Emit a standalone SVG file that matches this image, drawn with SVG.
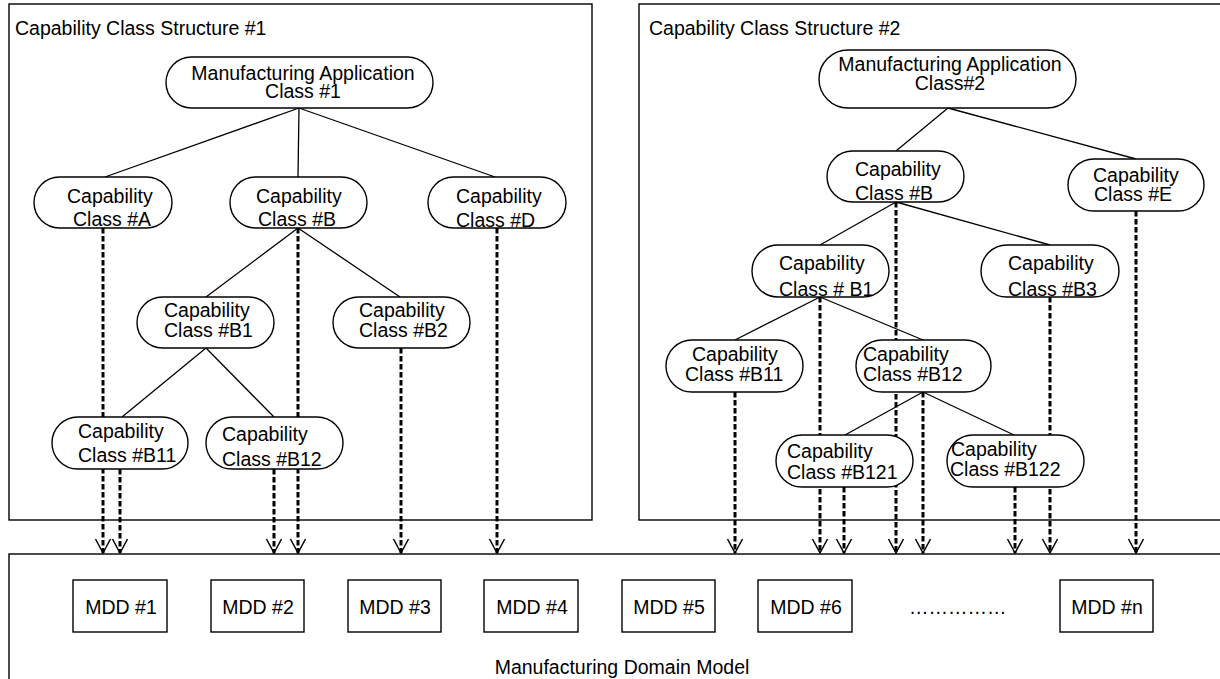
<svg xmlns="http://www.w3.org/2000/svg" width="1220" height="679" viewBox="0 0 1220 679">
<style>
text{font-family:"Liberation Sans",Arial,sans-serif;font-size:19.5px;fill:#000}
.box{fill:#fff;stroke:#000;stroke-width:1.4}
.node{fill:#fff;stroke:#000;stroke-width:1.4}
.mdd{fill:#fff;stroke:#000;stroke-width:1.4}
.tree{stroke:#000;stroke-width:1.3;fill:none}
.dep{stroke:#000;stroke-width:3;stroke-dasharray:5.5 2.5;fill:none}
.c{text-anchor:middle}
</style>
<defs>
<marker id="arr" markerUnits="userSpaceOnUse" markerWidth="20" markerHeight="20" viewBox="-16 -10 20 20" refX="0" refY="0" orient="auto" overflow="visible">
<path d="M-14,-7.5 L0,0 L-14,7.5" fill="none" stroke="#000" stroke-width="1.5"/>
</marker>
</defs>
<rect width="1220" height="679" fill="#fff"/>

<g id="structure1">
<rect class="box" x="9" y="4" width="583" height="516"/>
<text x="15" y="35">Capability Class Structure #1</text>
</g>
<g id="structure2">
<rect class="box" x="639" y="4" width="600" height="516"/>
<text x="649" y="35">Capability Class Structure #2</text>
</g>
<g id="domain">
<rect class="box" x="9" y="554" width="1230" height="140"/>
<text class="c" x="622" y="674">Manufacturing Domain Model</text>
</g>

<g id="connectors">
<path class="tree" d="M299,108 L105,177 M299,108 L298,177 M299,108 L495,177 M298,228 L206,297 M298,228 L400,297 M206,348 L122,417 M206,348 L274,417"/>
<path class="tree" d="M948,108 L896,151 M948,108 L1136,159 M896,202 L820,245 M896,202 L1050,245 M820,297 L735,340 M820,297 L923,340 M923,392 L845,435 M923,392 L1014,435"/>
<path class="dep" marker-end="url(#arr)" d="M103,228 L103,553"/>
<path class="dep" marker-end="url(#arr)" d="M120,469 L120,553"/>
<path class="dep" marker-end="url(#arr)" d="M274,469 L274,553"/>
<path class="dep" marker-end="url(#arr)" d="M298,228 L298,553"/>
<path class="dep" marker-end="url(#arr)" d="M401,348 L401,553"/>
<path class="dep" marker-end="url(#arr)" d="M497,228 L497,553"/>
<path class="dep" marker-end="url(#arr)" d="M735,392 L735,553"/>
<path class="dep" marker-end="url(#arr)" d="M820,297 L820,553"/>
<path class="dep" marker-end="url(#arr)" d="M844,487 L844,553"/>
<path class="dep" marker-end="url(#arr)" d="M896,202 L896,553"/>
<path class="dep" marker-end="url(#arr)" d="M923,392 L923,553"/>
<path class="dep" marker-end="url(#arr)" d="M1015,487 L1015,553"/>
<path class="dep" marker-end="url(#arr)" d="M1050,297 L1050,553"/>
<path class="dep" marker-end="url(#arr)" d="M1136,211 L1136,553"/>
</g>

<g id="root1"><rect class="node" x="166" y="57" width="267" height="51" rx="25.5"/>
<text class="c"><tspan x="303" y="80">Manufacturing Application</tspan><tspan x="303" y="98">Class #1</tspan></text></g>
<g id="s1-A"><rect class="node" x="34" y="177" width="138" height="51" rx="25.5"/>
<text><tspan x="67" y="203">Capability</tspan><tspan x="73" y="226">Class #A</tspan></text></g>
<g id="s1-B"><rect class="node" x="230" y="177" width="137" height="51" rx="25.5"/>
<text><tspan x="256" y="203">Capability</tspan><tspan x="258" y="226">Class #B</tspan></text></g>
<g id="s1-D"><rect class="node" x="428" y="177" width="138" height="51" rx="25.5"/>
<text><tspan x="456" y="203">Capability</tspan><tspan x="456" y="227">Class #D</tspan></text></g>
<g id="s1-B1"><rect class="node" x="137" y="297" width="137" height="51" rx="25.5"/>
<text><tspan x="164" y="317">Capability</tspan><tspan x="164" y="337">Class #B1</tspan></text></g>
<g id="s1-B2"><rect class="node" x="333" y="297" width="137" height="51" rx="25.5"/>
<text><tspan x="359" y="317">Capability</tspan><tspan x="359" y="337">Class #B2</tspan></text></g>
<g id="s1-B11"><rect class="node" x="52" y="417" width="136" height="52" rx="26"/>
<text><tspan x="78" y="438">Capability</tspan><tspan x="78" y="462">Class #B11</tspan></text></g>
<g id="s1-B12"><rect class="node" x="206" y="417" width="137" height="52" rx="26"/>
<text><tspan x="222" y="441">Capability</tspan><tspan x="222" y="466">Class #B12</tspan></text></g>

<g id="root2"><rect class="node" x="819" y="50" width="257" height="58" rx="29"/>
<text class="c"><tspan x="950" y="71">Manufacturing Application</tspan><tspan x="950" y="90">Class#2</tspan></text></g>
<g id="s2-B"><rect class="node" x="827" y="151" width="137" height="51" rx="25.5"/>
<text><tspan x="855" y="176">Capability</tspan><tspan x="855" y="200">Class #B</tspan></text></g>
<g id="s2-E"><rect class="node" x="1068" y="159" width="136" height="52" rx="26"/>
<text><tspan x="1093" y="182">Capability</tspan><tspan x="1094" y="201">Class #E</tspan></text></g>
<g id="s2-B1"><rect class="node" x="752" y="245" width="137" height="52" rx="26"/>
<text><tspan x="779" y="270">Capability</tspan><tspan x="779" y="296">Class # B1</tspan></text></g>
<g id="s2-B3"><rect class="node" x="981" y="245" width="138" height="52" rx="26"/>
<text><tspan x="1008" y="270">Capability</tspan><tspan x="1008" y="296">Class #B3</tspan></text></g>
<g id="s2-B11"><rect class="node" x="666" y="340" width="137" height="52" rx="26"/>
<text><tspan x="692" y="361">Capability</tspan><tspan x="685" y="381">Class #B11</tspan></text></g>
<g id="s2-B12"><rect class="node" x="856" y="340" width="135" height="52" rx="26"/>
<text><tspan x="863" y="361">Capability</tspan><tspan x="863" y="381">Class #B12</tspan></text></g>
<g id="s2-B121"><rect class="node" x="776" y="435" width="137" height="52" rx="26"/>
<text><tspan x="787" y="458">Capability</tspan><tspan x="787" y="479">Class #B121</tspan></text></g>
<g id="s2-B122"><rect class="node" x="947" y="435" width="137" height="52" rx="26"/>
<text><tspan x="951" y="456">Capability</tspan><tspan x="950" y="476">Class #B122</tspan></text></g>

<g id="mdd1"><rect class="mdd" x="73" y="580" width="94" height="52"/><text class="c" x="121" y="614">MDD #1</text></g>
<g id="mdd2"><rect class="mdd" x="211" y="580" width="93" height="52"/><text class="c" x="258" y="614">MDD #2</text></g>
<g id="mdd3"><rect class="mdd" x="348" y="580" width="93" height="52"/><text class="c" x="395" y="614">MDD #3</text></g>
<g id="mdd4"><rect class="mdd" x="484" y="580" width="94" height="52"/><text class="c" x="532" y="614">MDD #4</text></g>
<g id="mdd5"><rect class="mdd" x="622" y="580" width="93" height="52"/><text class="c" x="669" y="614">MDD #5</text></g>
<g id="mdd6"><rect class="mdd" x="758" y="580" width="94" height="52"/><text class="c" x="806" y="614">MDD #6</text></g>
<g id="ellipsis"><text x="909" y="614">……………</text></g>
<g id="mddn"><rect class="mdd" x="1060" y="580" width="93" height="52"/><text class="c" x="1107" y="614">MDD #n</text></g>
</svg>
